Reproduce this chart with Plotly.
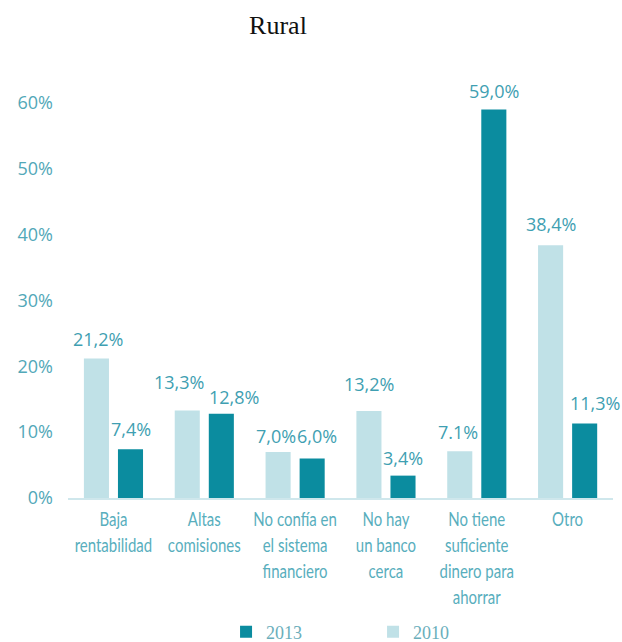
import plotly.graph_objects as go

# Motivos para no ahorrar en el sistema financiero - zona rural
categories = [
    "Baja<br>rentabilidad",
    "Altas<br>comisiones",
    "No confía en<br>el sistema<br>financiero",
    "No hay<br>un banco<br>cerca",
    "No tiene<br>suficiente<br>dinero para<br>ahorrar",
    "Otro",
]
values_2010 = [21.2, 13.3, 7.0, 13.2, 7.1, 38.4]
values_2013 = [7.4, 12.8, 6.0, 3.4, 59.0, 11.3]
y_ticks = [0, 10, 20, 30, 40, 50, 60]

# decimal separator used in each printed label
sep_2010 = [",", ",", ",", ",", ".", ","]
sep_2013 = [",", ",", ",", ",", ",", ","]

DARK = "#0b8c9f"
LIGHT = "#c0e1e7"
LABEL = "#3f9fb2"
TICK = "#52a8b8"
CAT = "#58aebd"

BAR_W = 0.276
OFF_2010 = -0.325
OFF_2013 = 0.05

fig = go.Figure()
fig.add_trace(go.Bar(
    name="2010", x=categories, y=values_2010,
    marker=dict(color=LIGHT, line=dict(width=0)),
    width=BAR_W, offset=OFF_2010, legendrank=2,
))
fig.add_trace(go.Bar(
    name="2013", x=categories, y=values_2013,
    marker=dict(color=DARK, line=dict(width=0)),
    width=BAR_W, offset=OFF_2013, legendrank=1,
))


def fmt(v, sep):
    return f"{v:.1f}".replace(".", sep) + "%"


# small nudges (px) that keep neighbouring value labels apart
dx_2010 = [2, -8, -2, 0, -2, 0]
dy_2010 = [19, 28, 16, 27, 19, 21]
dx_2013 = [1, 13, 5, 0, 0, 10]
dy_2013 = [20, 17, 23, 18, 19, 21]

annotations = []
for i in range(len(categories)):
    for vals, seps, off, dxs, dys in (
        (values_2010, sep_2010, OFF_2010, dx_2010, dy_2010),
        (values_2013, sep_2013, OFF_2013, dx_2013, dy_2013),
    ):
        annotations.append(dict(
            x=i + off + BAR_W / 2, y=vals[i], xref="x", yref="y",
            text=fmt(vals[i], seps[i]), showarrow=False,
            xanchor="center", yanchor="middle",
            xshift=dxs[i], yshift=dys[i],
            font=dict(family="Open Sans, sans-serif", size=18, color=LABEL),
        ))

fig.update_layout(
    width=622, height=642,
    margin=dict(l=68, r=9, t=90, b=144),
    paper_bgcolor="white", plot_bgcolor="white",
    barmode="group",
    showlegend=True,
    title=dict(
        text="Rural", x=278 / 622, xanchor="center", y=1 - 25 / 642, yanchor="middle",
        xref="container", yref="container",
        font=dict(family="Liberation Serif, Times New Roman, serif", size=26, color="#111111"),
    ),
    legend=dict(
        orientation="h", x=0.29, xanchor="left",
        yref="container", y=1 - 632 / 642, yanchor="middle",
        entrywidth=102, traceorder="normal",
        font=dict(family="Liberation Serif, DejaVu Serif, serif", size=18, color="#6aaebb"),
        bgcolor="rgba(0,0,0,0)",
    ),
    annotations=annotations,
)

fig.update_xaxes(
    showgrid=False, zeroline=False, automargin=False,
    showline=True, linecolor="#cfe7ec", linewidth=1.5,
    ticks="", tickangle=0, ticklabelstandoff=2,
    tickfont=dict(family="Lato, sans-serif", size=20, color=CAT),
    range=[-0.5, len(categories) - 0.5],
)
fig.update_yaxes(
    range=[0, (498 - 90) / 6.583], automargin=False,
    tickvals=y_ticks, ticktext=[f"{t}%" for t in y_ticks],
    showgrid=False, zeroline=False, showline=False, ticks="",
    ticklabelstandoff=14,
    tickfont=dict(family="Open Sans, sans-serif", size=18, color=TICK),
)

# Narrow the category labels horizontally so they read as a condensed face
squeeze_js = """
var gd = document.getElementById('{plot_id}');
function squeezeTicks() {
  gd.querySelectorAll('.xtick text').forEach(function (t) {
    var tr = t.getAttribute('transform') || '';
    if (tr.indexOf('scale') < 0) {
      t.setAttribute('transform', (tr + ' scale(0.75,1)').trim());
    }
  });
}
squeezeTicks();
gd.on('plotly_afterplot', squeezeTicks);
setTimeout(squeezeTicks, 50);
"""

fig.write_html("out.html", post_script=squeeze_js)
